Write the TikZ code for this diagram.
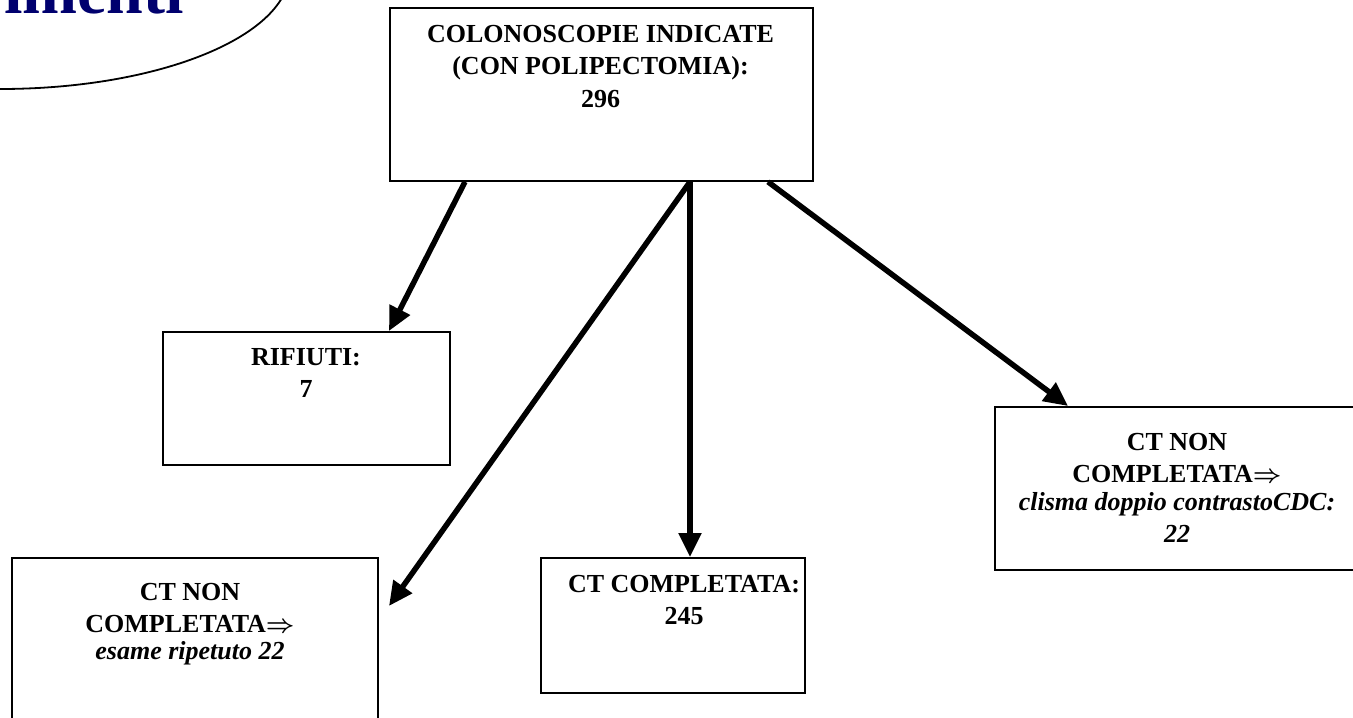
\documentclass[tikz,border=0pt]{standalone}
\usepackage{fontspec}
\usepackage{bm}
\setmainfont{Liberation Serif}
\usetikzlibrary{arrows.meta,calc}
\definecolor{navyblue}{RGB}{0,0,110}
\begin{document}
\begin{tikzpicture}[x=1pt,y=-1pt,
  box/.style={draw=black, line width=1.8pt, rectangle, inner sep=0pt, anchor=north west},
  txt/.style={font=\fontsize{26}{32.5}\selectfont\bfseries, align=center, inner sep=0pt, anchor=north},
  conn/.style={line width=5.5pt, -{Triangle[length=24pt,width=22pt]}}]
\useasboundingbox (0,0) rectangle (1353,718);
\clip (0,0) rectangle (1353,718);
% partial ellipse with title
\draw[line width=1.8pt] (0,-30) ellipse [x radius=290, y radius=119];
\node[font=\fontsize{66}{70}\selectfont\bfseries, text=navyblue, anchor=base east, inner sep=0pt] (title) at (184,13) {imenti};
% boxes
\node[box, minimum width=423pt, minimum height=173pt] (top) at (389,7) {};
\node[box, minimum width=287pt, minimum height=133pt] (rif) at (162,331) {};
\node[box, minimum width=366pt, minimum height=163pt] (right) at (994,406) {};
\node[box, minimum width=366pt, minimum height=180pt] (left) at (11,557) {};
\node[box, minimum width=264pt, minimum height=135pt] (mid) at (540,557) {};
% texts
\node[txt] (ttop) at (600.5,25) {COLONOSCOPIE INDICATE\\(CON POLIPECTOMIA):\\296};
\node[txt] (trif) at (306,348) {RIFIUTI:\\7};
\node[txt] (tright) at (1177,433) {CT NON\\COMPLETATA$\bm{\Rightarrow}$\\[-5pt]\textit{clisma doppio contrastoCDC:}\\\textit{22}};
\node[txt] (tleft) at (190,583) {CT NON\\COMPLETATA$\bm{\Rightarrow}$\\[-6pt]\textit{esame ripetuto 22}};
\node[txt] (tmid) at (684,575) {CT COMPLETATA:\\245};
% connectors
\coordinate (free) at (389,606);
\draw[conn] ([xshift=76pt]top.south west) -- ([xshift=227pt]rif.north west);
\draw[conn] ([xshift=301pt]top.south west) -- (free);
\draw[conn] ([xshift=301pt]top.south west) -- ([xshift=150pt]mid.north west);
\draw[conn] ([xshift=379pt]top.south west) -- ([xshift=74pt]right.north west);
\end{tikzpicture}
\end{document}
